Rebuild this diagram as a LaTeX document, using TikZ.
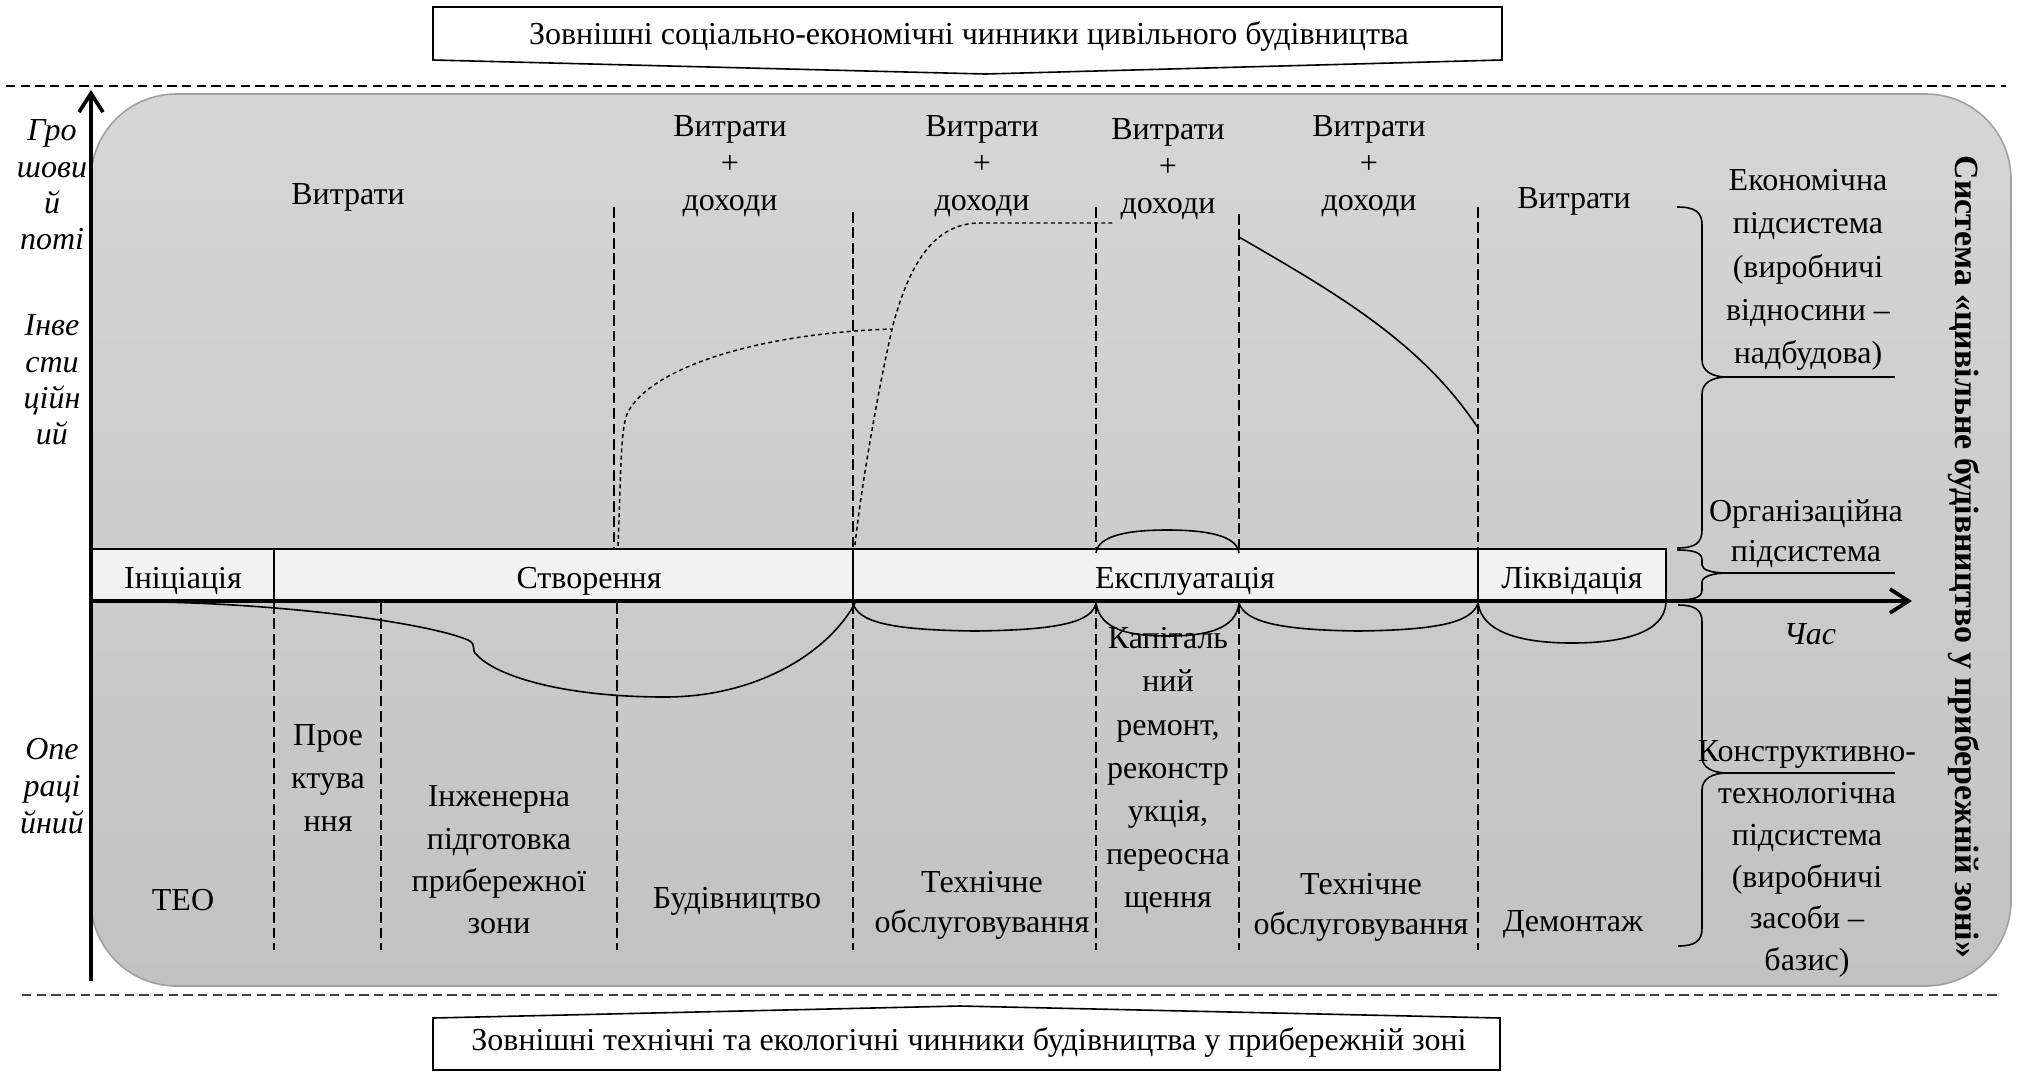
\documentclass[tikz,border=0pt]{standalone}
\usepackage{fontspec}
\setmainfont{Liberation Serif}
\usetikzlibrary{arrows.meta}
\definecolor{bgtop}{HTML}{D6D6D6}
\definecolor{bgbot}{HTML}{C2C2C2}
\definecolor{bandc}{HTML}{F2F2F2}
\definecolor{rim}{HTML}{A0A0A0}
\begin{document}
\begin{tikzpicture}[x=0.375pt,y=-0.375pt,
  txt/.style={font=\fontsize{12}{14}\selectfont, align=center, inner sep=0pt},
  itx/.style={font=\fontsize{12}{13.6}\selectfont\itshape, align=center, inner sep=0pt},
  vdash/.style={dash pattern=on 4pt off 1.8pt, line width=0.5pt},
  fdash/.style={dash pattern=on 1.5pt off 1.2pt, line width=0.55pt},
  hdash/.style={dash pattern=on 3.5pt off 2pt, line width=0.6pt},
  curve/.style={line width=0.6pt},
  axis/.style={line width=1.4pt, -{Straight Barb[length=7pt,width=9pt]}},
  boxline/.style={line width=0.6pt}]
\useasboundingbox (0,0) rectangle (2017,1072);
% separators
\draw[hdash] (6,86) -- (2006,86);
\draw[hdash, draw=black!75] (22,995) -- (2001,995);
% main panel
\path[rounded corners=32pt, top color=bgtop, bottom color=bgbot, draw=rim, line width=0.6pt] (91,94) rectangle (2011,986);
% external factor boxes
\draw[boxline, fill=white] (433,7) -- (1502,7) -- (1502,60) -- (985,74) -- (433,60) -- cycle;
\node[txt] (topt) at (969,36) {Зовнішні соціально-економічні чинники цивільного будівництва};
\draw[boxline, fill=white] (433,1018) -- (960,1006) -- (1500,1018) -- (1500,1070) -- (433,1070) -- cycle;
\node[txt] (bott) at (969,1042) {Зовнішні технічні та екологічні чинники будівництва у прибережній зоні};
% phase band
\draw[boxline, fill=bandc] (91,549) rectangle (274,601);
\draw[boxline, fill=bandc] (274,549) rectangle (853,601);
\draw[boxline, fill=bandc] (853,549) rectangle (1478,601);
\draw[boxline, fill=bandc] (1478,549) rectangle (1666,601);
\node[txt] (p1) at (183,581) {Ініціація};
\node[txt] (p2) at (589,581) {Створення};
\node[txt] (p3) at (1185,581) {Експлуатація};
\node[txt] (p4) at (1572,581) {Ліквідація};
% upper dashed verticals
\draw[vdash] (614,207) -- (614,549);
\draw[vdash] (853,212) -- (853,549);
\draw[vdash] (1096,207) -- (1096,549);
\draw[vdash] (1239,214) -- (1239,549);
\draw[vdash] (1478,207) -- (1478,549);
% lower dashed verticals
\foreach \xx in {274,381,617,853,1096,1239,1478}
  \draw[vdash] (\xx,603) -- (\xx,950);
% upper curves
\draw[fdash] (618,546) .. controls (621,480) and (620,427) .. (628,412)
  .. controls (650,370) and (750,334) .. (891,329);
\draw[fdash] (855,545) .. controls (862,480) and (880,380) .. (893,325)
  .. controls (910,262) and (935,223) .. (980,223) -- (1113,223);
\draw[curve] (1239,237) .. controls (1330,290) and (1420,340) .. (1478,428);
% cap arc over capital repair
\draw[curve] (1096,553) .. controls (1098,535) and (1130,530) .. (1167,530)
  .. controls (1205,530) and (1237,535) .. (1239,553);
% lower curve
\draw[curve] (160,602) .. controls (300,605) and (430,624) .. (468,640)
  .. controls (478,645) and (470,650) .. (477,655)
  .. controls (495,675) and (560,697) .. (665,697)
  .. controls (760,697) and (830,650) .. (855,603);
% lower arcs
\draw[curve] (853,603) .. controls (858,622) and (890,630) .. (975,631)
  .. controls (1060,630) and (1092,622) .. (1096,603);
\draw[curve] (1096,603) .. controls (1100,630) and (1130,636) .. (1167,636)
  .. controls (1205,636) and (1236,630) .. (1239,603);
\draw[curve] (1239,603) .. controls (1245,622) and (1280,630) .. (1358,631)
  .. controls (1440,630) and (1472,622) .. (1478,603);
\draw[curve] (1478,603) .. controls (1482,632) and (1520,643) .. (1572,643)
  .. controls (1625,643) and (1664,632) .. (1666,603);
% right braces
\draw[curve] (1677,207) .. controls (1695,207) and (1702,212) .. (1702,225) -- (1702,360)
  .. controls (1702,371) and (1712,377) .. (1727,377)
  .. controls (1712,377) and (1702,383) .. (1702,394) -- (1702,530)
  .. controls (1702,543) and (1695,548) .. (1677,548);
\draw[curve] (1677,550) .. controls (1695,550) and (1702,553) .. (1702,560) -- (1702,565)
  .. controls (1702,570) and (1712,573) .. (1727,573)
  .. controls (1712,573) and (1702,577) .. (1702,582) -- (1702,590)
  .. controls (1702,597) and (1695,600) .. (1677,600);
\draw[curve] (1678,605) .. controls (1695,605) and (1702,610) .. (1702,622) -- (1702,757)
  .. controls (1702,767) and (1712,773) .. (1727,773)
  .. controls (1712,773) and (1702,779) .. (1702,790) -- (1702,928)
  .. controls (1702,941) and (1695,946) .. (1678,946);
\draw[curve] (1727,377) -- (1895,377);
\draw[curve] (1727,573) -- (1895,573);
\draw[curve] (1727,773) -- (1895,773);
% axes
\draw[axis] (91,981) -- (91,90);
\draw[axis] (91,601) -- (1912,601);
% upper labels
\node[txt] (c1) at (348,197) {Витрати};
\node[txt] (c2) at (730,166) {Витрати\\+\\доходи};
\node[txt] (c3) at (982,166) {Витрати\\+\\доходи};
\node[txt] (c4) at (1168,169) {Витрати\\+\\доходи};
\node[txt] (c5) at (1369,166) {Витрати\\+\\доходи};
\node[txt] (c6) at (1574,201) {Витрати};
% left labels
\node[itx] (l1) at (52,185) {Гро\\шови\\й\\поті};
\node[itx] (l2) at (52,380) {Інве\\сти\\ційн\\ий};
\node[itx, font=\fontsize{12}{13.9}\selectfont\itshape] (l3) at (52,786) {Опе\\раці\\йний};
% lower labels
\node[txt] (o1) at (183,900) {ТЕО};
\node[txt, font=\fontsize{12}{16.1}\selectfont] (o2) at (328,778) {Прое\\ктува\\ння};
\node[txt, font=\fontsize{12}{15.9}\selectfont] (o3) at (499,860) {Інженерна\\підготовка\\прибережної\\зони};
\node[txt] (o4) at (737,901) {Будівництво};
\node[txt, font=\fontsize{12}{15}\selectfont] (o5) at (982,905) {Технічне\\обслуговування};
\node[txt, font=\fontsize{12}{16.2}\selectfont] (o6) at (1168,771) {Капіталь\\ний\\ремонт,\\реконстр\\укція,\\переосна\\щення};
\node[txt, font=\fontsize{12}{15}\selectfont] (o7) at (1361,907) {Технічне\\обслуговування};
\node[txt] (o8) at (1573,924) {Демонтаж};
% right labels
\node[txt, font=\fontsize{12}{16.2}\selectfont] (r1) at (1808,270) {Економічна\\підсистема\\(виробничі\\відносини –\\надбудова)};
\node[txt, font=\fontsize{12}{15}\selectfont] (r2) at (1806,534) {Організаційна\\підсистема};
\node[itx] (r3) at (1810,634) {Час};
\node[txt, font=\fontsize{12}{15.7}\selectfont] (r4) at (1807,859) {Конструктивно-\\технологічна\\підсистема\\(виробничі\\засоби –\\базис)};
\node[txt, font=\fontsize{12.7}{14}\selectfont\bfseries, rotate=-90] (sys) at (1964,557) {Система «цивільне будівництво у прибережній зоні»};
\end{tikzpicture}
\end{document}
